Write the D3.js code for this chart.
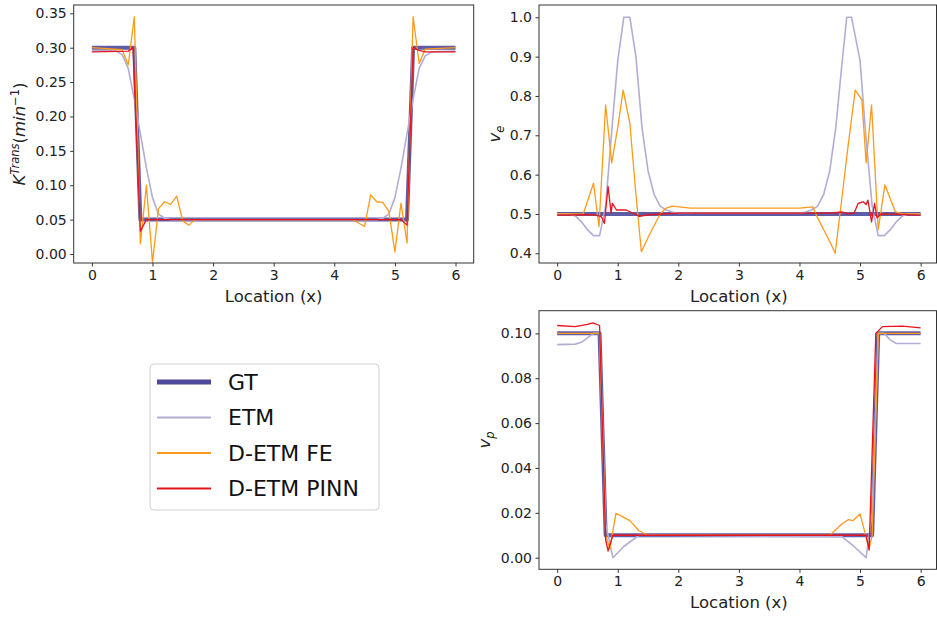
<!DOCTYPE html>
<html>
<head>
<meta charset="utf-8">
<script src="https://cdn.jsdelivr.net/npm/d3@7"></script>
<style>
  body { margin: 0; background: #fff; }
  svg { font-family: "DejaVu Sans", sans-serif; }
</style>
</head>
<body>
<script>
// x positions shared by every panel
const xTicks = [0, 1, 2, 3, 4, 5, 6];

// K^Trans panel, [x, value] vertices
const kGT = [[0, 0.3], [0.7, 0.3], [0.8, 0.05], [5.2, 0.05], [5.3, 0.3], [6, 0.3]];
const kETM = [[0, 0.296], [0.4, 0.295], [0.5, 0.29], [0.6, 0.27], [0.7, 0.225], [0.8, 0.175], [0.9, 0.125],
  [1.0, 0.082], [1.1, 0.058], [1.2, 0.052], [1.3, 0.05], [4.7, 0.05], [4.8, 0.052], [4.9, 0.058], [5.0, 0.082],
  [5.1, 0.125], [5.2, 0.175], [5.3, 0.225], [5.4, 0.27], [5.5, 0.288], [5.6, 0.294], [6, 0.295]];
const kFE = [[0, 0.3], [0.5, 0.297], [0.6, 0.275], [0.7, 0.345], [0.8, 0.015], [0.9, 0.1], [1.0, -0.012],
  [1.1, 0.066], [1.2, 0.076], [1.3, 0.072], [1.4, 0.084], [1.5, 0.048], [1.6, 0.042], [1.7, 0.05], [4.3, 0.05],
  [4.4, 0.045], [4.5, 0.04], [4.6, 0.086], [4.7, 0.076], [4.8, 0.075], [4.9, 0.062], [5.0, 0.003], [5.1, 0.074],
  [5.2, 0.016], [5.3, 0.345], [5.4, 0.277], [5.5, 0.298], [6, 0.3]];
const kPINN = [[0, 0.294], [0.6, 0.295], [0.68, 0.3], [0.8, 0.033], [0.9, 0.05], [5.1, 0.05], [5.2, 0.042],
  [5.3, 0.3], [5.4, 0.296], [5.5, 0.294], [6, 0.294]];
const kTicks = [0, 0.05, 0.1, 0.15, 0.2, 0.25, 0.3, 0.35];

// v_e panel
const veGT = [[0, 0.5], [6, 0.5]];
const veETM = [[0, 0.5], [0.2, 0.5], [0.3, 0.495], [0.4, 0.48], [0.5, 0.46], [0.6, 0.445], [0.7, 0.445],
  [0.8, 0.52], [0.9, 0.71], [1.0, 0.89], [1.1, 1.0], [1.2, 1.0], [1.3, 0.9], [1.4, 0.72], [1.5, 0.61],
  [1.6, 0.55], [1.7, 0.52], [1.8, 0.51], [1.9, 0.505], [2.0, 0.502], [4.0, 0.502], [4.1, 0.505], [4.2, 0.51],
  [4.3, 0.52], [4.4, 0.55], [4.5, 0.61], [4.6, 0.72], [4.7, 0.88], [4.78, 1.0], [4.86, 1.0], [5.0, 0.89],
  [5.1, 0.69], [5.2, 0.52], [5.3, 0.445], [5.4, 0.445], [5.5, 0.46], [5.6, 0.48], [5.7, 0.495], [5.8, 0.5], [6, 0.5]];
const veFE = [[0, 0.5], [0.43, 0.5], [0.6, 0.578], [0.69, 0.468], [0.8, 0.777], [0.9, 0.63], [1.0, 0.72],
  [1.09, 0.815], [1.2, 0.73], [1.3, 0.55], [1.39, 0.404], [1.5, 0.44], [1.6, 0.47], [1.7, 0.5], [1.8, 0.515],
  [1.9, 0.52], [2.2, 0.515], [4.0, 0.515], [4.22, 0.518], [4.3, 0.49], [4.4, 0.46], [4.5, 0.43], [4.59, 0.4],
  [4.7, 0.54], [4.8, 0.67], [4.92, 0.815], [5.03, 0.79], [5.1, 0.63], [5.19, 0.777], [5.3, 0.46], [5.41, 0.574],
  [5.58, 0.506], [5.7, 0.5], [6, 0.5]];
const vePINN = [[0, 0.497], [0.6, 0.498], [0.73, 0.493], [0.78, 0.476], [0.84, 0.57], [0.89, 0.502], [0.91, 0.527],
  [0.98, 0.51], [1.14, 0.51], [1.36, 0.494], [1.5, 0.498], [2, 0.502], [4.5, 0.502], [4.7, 0.505], [4.8, 0.5],
  [4.9, 0.502], [4.97, 0.527], [5.05, 0.531], [5.1, 0.524], [5.13, 0.535], [5.19, 0.48], [5.24, 0.527],
  [5.28, 0.49], [5.35, 0.5], [6, 0.497]];
const veTicks = [0.4, 0.5, 0.6, 0.7, 0.8, 0.9, 1.0];

// v_p panel
const vpGT = [[0, 0.1], [0.7, 0.1], [0.8, 0.01], [5.2, 0.01], [5.3, 0.1], [6, 0.1]];
const vpETM = [[0, 0.095], [0.3, 0.0952], [0.4, 0.096], [0.5, 0.098], [0.6, 0.1], [0.7, 0.1], [0.8, 0.015],
  [0.92, 0.0], [1.1, 0.005], [1.35, 0.01], [4.7, 0.0094], [4.9, 0.005], [5.1, 0.0], [5.2, 0.02], [5.3, 0.1],
  [5.4, 0.1], [5.5, 0.097], [5.6, 0.0955], [6, 0.0955]];
const vpFE = [[0, 0.1], [0.7, 0.1], [0.8, 0.01], [0.87, 0.004], [0.97, 0.0198], [1.1, 0.018], [1.2, 0.0165],
  [1.35, 0.012], [1.5, 0.01], [4.5, 0.01], [4.7, 0.015], [4.81, 0.017], [4.88, 0.0165], [5.0, 0.0195],
  [5.15, 0.004], [5.2, 0.01], [5.3, 0.1], [6, 0.1]];
const vpPINN = [[0, 0.1035], [0.3, 0.103], [0.5, 0.104], [0.59, 0.1047], [0.7, 0.1035], [0.8, 0.008],
  [0.84, 0.003], [0.92, 0.01], [5.1, 0.01], [5.15, 0.0034], [5.26, 0.1], [5.37, 0.103], [5.7, 0.1032], [6, 0.1024]];
const vpTicks = [0, 0.02, 0.04, 0.06, 0.08, 0.1];

const seriesNames = ["GT", "ETM", "D-ETM FE", "D-ETM PINN"];

// styles
const width = 937, height = 617;
const colors = ["#4d4a9c", "#b3add6", "#ff9a1a", "#e6141c"];
const widths = [4, 1.6, 1.3, 1.3];
const tickFont = 14;
const labelFont = 16.5;
const axisColor = "#333";

const svg = d3.select("body").append("svg")
  .attr("width", width)
  .attr("height", height);

function drawPanel(p) {
  const x = d3.scaleLinear().domain([-0.3, 6.3]).range([p.left, p.right]);
  const y = d3.scaleLinear().domain(p.yDomain).range([p.bottom, p.top]);
  const g = svg.append("g");

  const line = d3.line().x(d => x(d[0])).y(d => y(d[1]));

  p.series.forEach((s, i) => {
    g.append("path")
      .datum(s)
      .attr("fill", "none")
      .attr("stroke", colors[i])
      .attr("stroke-width", widths[i])
      .attr("stroke-linejoin", "round")
      .attr("opacity", i === 0 ? 0.9 : 1)
      .attr("d", line);
  });

  // axes
  const xAxis = g.append("g")
    .attr("transform", `translate(0,${p.bottom})`)
    .call(d3.axisBottom(x).tickValues(xTicks).tickFormat(d3.format("d"))
      .tickSize(3.5).tickPadding(3.5).tickSizeOuter(0));
  const yAxis = g.append("g")
    .attr("transform", `translate(${p.left},0)`)
    .call(d3.axisLeft(y).tickValues(p.yTicks).tickFormat(d3.format(p.fmt))
      .tickSize(3.5).tickPadding(3.5).tickSizeOuter(0));
  [xAxis, yAxis].forEach(a => {
    a.select(".domain").remove();
    a.selectAll("line").attr("stroke", axisColor);
    a.selectAll("text").attr("font-size", tickFont).attr("fill", "#222")
      .attr("font-family", "DejaVu Sans");
  });

  // frame
  g.append("rect")
    .attr("x", p.left)
    .attr("y", p.top)
    .attr("width", Math.min(p.right, 936.5) - p.left)
    .attr("height", p.bottom - p.top)
    .attr("fill", "none")
    .attr("stroke", axisColor)
    .attr("stroke-width", 1);

  g.append("text")
    .attr("x", x(3))
    .attr("y", p.bottom + 39)
    .attr("text-anchor", "middle")
    .attr("font-size", labelFont)
    .attr("fill", "#222")
    .text("Location (x)");

  const yl = g.append("text")
    .attr("transform", `translate(${p.left - p.ylabelOffset},${(p.top + p.bottom) / 2}) rotate(-90)`)
    .attr("text-anchor", "middle")
    .attr("font-size", labelFont)
    .attr("fill", "#222");
  p.ylabel(yl);
}

drawPanel({
  left: 73.7, right: 473.7, top: 5, bottom: 263,
  yDomain: [-0.0131, 0.3621], yTicks: kTicks, fmt: ".2f", ylabelOffset: 49,
  series: [kGT, kETM, kFE, kPINN],
  ylabel: t => {
    t.append("tspan").attr("font-style", "italic").text("K");
    t.append("tspan").attr("font-style", "italic").attr("font-size", 11.5).attr("dy", -6).text("Trans");
    t.append("tspan").attr("dy", 6).text("(");
    t.append("tspan").attr("font-style", "italic").text("min");
    t.append("tspan").attr("font-size", 11.5).attr("dy", -6).text("−1");
    t.append("tspan").attr("dy", 6).text(")");
  }
});

drawPanel({
  left: 539, right: 938.8, top: 5, bottom: 263,
  yDomain: [0.3753, 1.0313], yTicks: veTicks, fmt: ".1f", ylabelOffset: 39,
  series: [veGT, veETM, veFE, vePINN],
  ylabel: t => {
    t.append("tspan").attr("font-style", "italic").text("v");
    t.append("tspan").attr("font-style", "italic").attr("font-size", 11.5).attr("dy", 4).text("e");
  }
});

drawPanel({
  left: 539, right: 938.8, top: 310.7, bottom: 569.3,
  yDomain: [-0.00517, 0.1101], yTicks: vpTicks, fmt: ".2f", ylabelOffset: 49,
  series: [vpGT, vpETM, vpFE, vpPINN],
  ylabel: t => {
    t.append("tspan").attr("font-style", "italic").text("v");
    t.append("tspan").attr("font-style", "italic").attr("font-size", 11.5).attr("dy", 4).text("p");
  }
});

// legend
const legend = svg.append("g").attr("transform", "translate(150,364)");
legend.append("rect")
  .attr("width", 229)
  .attr("height", 146)
  .attr("rx", 4)
  .attr("fill", "#fff")
  .attr("stroke", "#d0d0d0")
  .attr("stroke-width", 1);

seriesNames.forEach((name, i) => {
  const yy = 18 + i * 35.5;
  legend.append("line")
    .attr("x1", 7).attr("x2", 61)
    .attr("y1", yy).attr("y2", yy)
    .attr("stroke", colors[i])
    .attr("stroke-width", i === 0 ? 5 : 2);
  legend.append("text")
    .attr("x", 78)
    .attr("y", yy)
    .attr("dy", "0.36em")
    .attr("font-size", 22)
    .attr("fill", "#111")
    .text(name);
});
</script>
</body>
</html>
